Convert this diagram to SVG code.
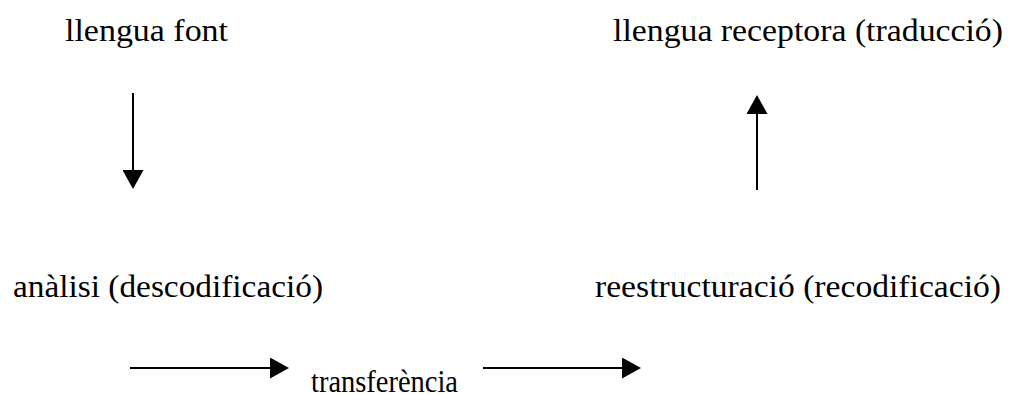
<svg xmlns="http://www.w3.org/2000/svg" width="1016" height="394" viewBox="0 0 1016 394">
<defs>
<style>
.t{font-family:"Liberation Serif","DejaVu Serif",serif;font-size:32px;fill:#000}
.c{stroke:#000;stroke-width:2;fill:none}
</style>
<marker id="ah" markerUnits="userSpaceOnUse" markerWidth="19" markerHeight="21" refX="0" refY="10.5" orient="auto" viewBox="0 0 19 21">
<path d="M0,0 L19,10.5 L0,21 Z" fill="#000"/>
</marker>
</defs>
<rect width="1016" height="394" fill="#fff"/>
<g id="n-font"><text class="t" x="65" y="41" textLength="163" lengthAdjust="spacingAndGlyphs">llengua font</text></g>
<g id="n-receptora"><text class="t" x="613" y="41" textLength="390" lengthAdjust="spacingAndGlyphs">llengua receptora (traducció)</text></g>
<g id="n-analisi"><text class="t" x="13" y="297" textLength="310" lengthAdjust="spacingAndGlyphs">anàlisi (descodificació)</text></g>
<g id="n-reestructuracio"><text class="t" x="595" y="297" textLength="406" lengthAdjust="spacingAndGlyphs">reestructuració (recodificació)</text></g>
<g id="n-transferencia"><text class="t" x="311" y="392" textLength="147" lengthAdjust="spacingAndGlyphs">transferència</text></g>
<g id="connectors">
<line class="c" x1="133" y1="93" x2="133" y2="170" marker-end="url(#ah)"/>
<line class="c" x1="757" y1="190" x2="757" y2="114" marker-end="url(#ah)"/>
<line class="c" x1="130" y1="368" x2="270" y2="368" marker-end="url(#ah)"/>
<line class="c" x1="483" y1="368" x2="622" y2="368" marker-end="url(#ah)"/>
</g>
</svg>
